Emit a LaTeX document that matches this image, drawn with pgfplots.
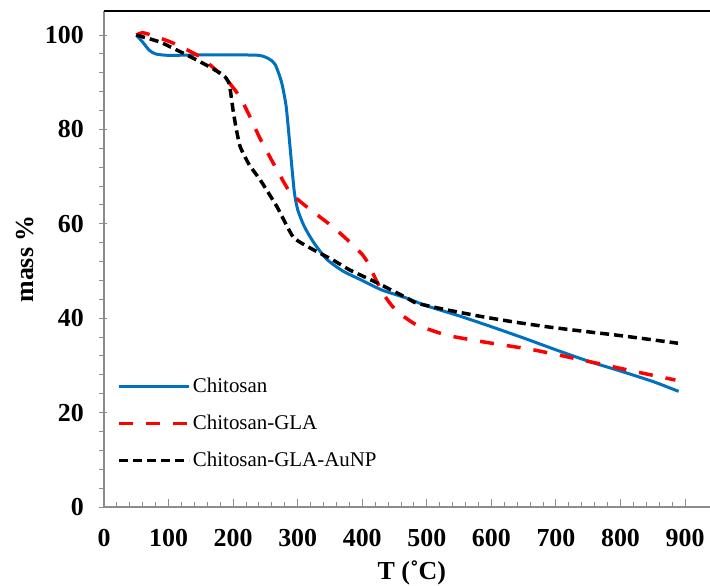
\documentclass[border=0pt]{standalone}
\usepackage{fontspec}
\setmainfont{Liberation Serif}
\usepackage{pgfplots}
\pgfplotsset{compat=1.18}
\definecolor{cblue}{RGB}{0,112,192}
\definecolor{spine}{RGB}{140,140,140}

\begin{document}
\begin{tikzpicture}
\begin{axis}[
  scale only axis, width=606bp, height=496bp,
  xmin=0, xmax=938.6, ymin=0, ymax=105.1,
  axis lines*=left,
  axis line style={spine, line width=2.5bp},
  xtick={0,100,...,900}, ytick={0,20,...,100},
  minor x tick num=4, minor y tick num=4,
  tick align=inside,
  major tick length=8bp, minor tick length=5bp,
  tick style={spine, line width=1bp},
  y tick style={xshift=-5bp},
  /pgf/number format/assume math mode=true,
  ticklabel style={font=\fontsize{26}{30}\selectfont\bfseries},
  xticklabel style={inner sep=0pt, anchor=north, yshift=-22bp},
  yticklabel style={inner sep=0pt, anchor=east, xshift=-20bp},
  xlabel={T (˚C)}, ylabel={mass \%},
  every axis x label/.style={at={(rel axis cs:0.508,0)}, yshift=-66bp, anchor=center,
    font=\fontsize{26}{30}\selectfont\bfseries},
  every axis y label/.style={at={(rel axis cs:0,0.5)}, xshift=-79bp, rotate=90, anchor=center,
    font=\fontsize{26}{30}\selectfont\bfseries},
  legend style={draw=none, fill=none, at={(rel axis cs:0.017,0.268)}, anchor=north west,
    font=\fontsize{21}{25}\selectfont, row sep=17bp, cells={anchor=west}},
  legend image code/.code={\draw[#1] (0bp,0bp) -- (70bp,0bp);},
]
\addplot[cblue, line width=3bp, smooth, tension=0.4] coordinates {
(50,100) (60,98.5) (70,96.8) (80,96) (100,95.7) (150,95.8) (200,95.8) (240,95.7)
(255,95) (265,93.8) (275,90) (282,85) (287,78) (291,72) (295,66.5) (300,63)
(310,59.5) (325,56) (345,52.5) (370,50) (400,48) (430,46) (470,44.2) (500,42.6)
(550,40.5) (600,38.2) (650,35.8) (700,33.3) (750,30.9) (800,28.8) (850,26.6) (890,24.5)
};
\addlegendentry{Chitosan}
\addplot[red, line width=3.5bp, dash pattern=on 14bp off 13bp, smooth, tension=0.3] coordinates {
(50,100) (60,100.5) (80,99.7) (107,98.3) (150,95.3) (190,90.5) (210,87) (225,83)
(242,78) (268,71.4) (288,66.7) (314,63.6) (355,59.3) (381,56.1) (400,53.5) (409,51.7)
(420,48.5) (432,45.3) (445,42.8) (458,41) (484,38.6) (531,36.4) (587,35) (665,33.3)
(742,31.1) (826,28.6) (885,26.9)
};
\addlegendentry{Chitosan-GLA}
\addplot[black, line width=3.5bp, dash pattern=on 9bp off 5bp, smooth, tension=0.3] coordinates {
(50,100) (87,98.5) (128,95.8) (159,93.6) (185,91.5) (193,90) (196,88) (200,84)
(205,80) (211,76.3) (225,72.5) (242,69.3) (268,63.6) (293,57.2) (319,54.9) (355,52.3)
(381,50.2) (423,47.5) (469,44.3) (484,43.2) (530,41.8) (587,40.3) (640,39.1) (691,38.1)
(745,37.2) (795,36.4) (840,35.6) (889,34.7)
};
\addlegendentry{Chitosan-GLA-AuNP}
\draw[line width=3bp, black] (rel axis cs:0,1) -- (rel axis cs:1,1);
\coordinate (ll) at (rel axis cs:0,0);
\end{axis}
\pgfresetboundingbox
\path (ll) ++(-104bp,-79bp) rectangle ++(710bp,586bp);
\end{tikzpicture}
\end{document}
